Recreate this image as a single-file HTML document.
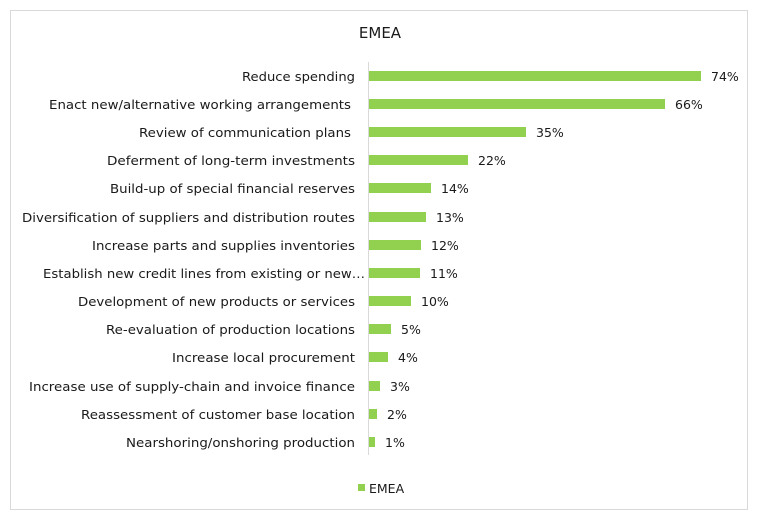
<!DOCTYPE html>
<html><head><meta charset="utf-8"><style>
html,body{margin:0;padding:0;background:#fff;}
svg{display:block;}
text{font-family:"DejaVu Sans","Liberation Sans",sans-serif;font-size:12.5px;fill:#1a1a1a;}
</style></head><body>
<svg width="758" height="518" viewBox="0 0 758 518">
<rect x="10.5" y="10.5" width="737" height="499" fill="#fff" stroke="#d9d9d9"/>
<text x="380" y="38" text-anchor="middle" style="font-size:15px">EMEA</text>
<g fill="#92d050">
<rect x="369" y="71" width="332" height="10"/>
<rect x="369" y="99" width="296" height="10"/>
<rect x="369" y="127" width="157" height="10"/>
<rect x="369" y="155" width="99" height="10"/>
<rect x="369" y="183" width="62" height="10"/>
<rect x="369" y="212" width="57" height="10"/>
<rect x="369" y="240" width="52" height="10"/>
<rect x="369" y="268" width="51" height="10"/>
<rect x="369" y="296" width="42" height="10"/>
<rect x="369" y="324" width="22" height="10"/>
<rect x="369" y="352" width="19" height="10"/>
<rect x="369" y="381" width="11" height="10"/>
<rect x="369" y="409" width="8" height="10"/>
<rect x="369" y="437" width="6" height="10"/>
<rect x="358" y="484" width="7" height="7"/>
</g>
<line x1="368.5" y1="62" x2="368.5" y2="455" stroke="#d9d9d9"/>
<g>
<text x="242" y="81" textLength="113" lengthAdjust="spacingAndGlyphs">Reduce spending</text>
<text x="49" y="109" textLength="302" lengthAdjust="spacingAndGlyphs">Enact new/alternative working arrangements</text>
<text x="139" y="137" textLength="212" lengthAdjust="spacingAndGlyphs">Review of communication plans</text>
<text x="107" y="165" textLength="248" lengthAdjust="spacingAndGlyphs">Deferment of long-term investments</text>
<text x="110" y="193" textLength="245" lengthAdjust="spacingAndGlyphs">Build-up of special financial reserves</text>
<text x="22" y="222" textLength="333" lengthAdjust="spacingAndGlyphs">Diversification of suppliers and distribution routes</text>
<text x="92" y="250" textLength="263" lengthAdjust="spacingAndGlyphs">Increase parts and supplies inventories</text>
<text x="43" y="278" textLength="322" lengthAdjust="spacingAndGlyphs">Establish new credit lines from existing or new…</text>
<text x="78" y="306" textLength="277" lengthAdjust="spacingAndGlyphs">Development of new products or services</text>
<text x="106" y="334" textLength="249" lengthAdjust="spacingAndGlyphs">Re-evaluation of production locations</text>
<text x="172" y="362" textLength="183" lengthAdjust="spacingAndGlyphs">Increase local procurement</text>
<text x="29" y="391" textLength="326" lengthAdjust="spacingAndGlyphs">Increase use of supply-chain and invoice finance</text>
<text x="81" y="419" textLength="274" lengthAdjust="spacingAndGlyphs">Reassessment of customer base location</text>
<text x="126" y="447" textLength="229" lengthAdjust="spacingAndGlyphs">Nearshoring/onshoring production</text>
</g>
<g>
<text x="711" y="81">74%</text>
<text x="675" y="109">66%</text>
<text x="536" y="137">35%</text>
<text x="478" y="165">22%</text>
<text x="441" y="193">14%</text>
<text x="436" y="222">13%</text>
<text x="431" y="250">12%</text>
<text x="430" y="278">11%</text>
<text x="421" y="306">10%</text>
<text x="401" y="334">5%</text>
<text x="398" y="362">4%</text>
<text x="390" y="391">3%</text>
<text x="387" y="419">2%</text>
<text x="385" y="447">1%</text>
</g>
<text x="369" y="493">EMEA</text>
</svg>
</body></html>
